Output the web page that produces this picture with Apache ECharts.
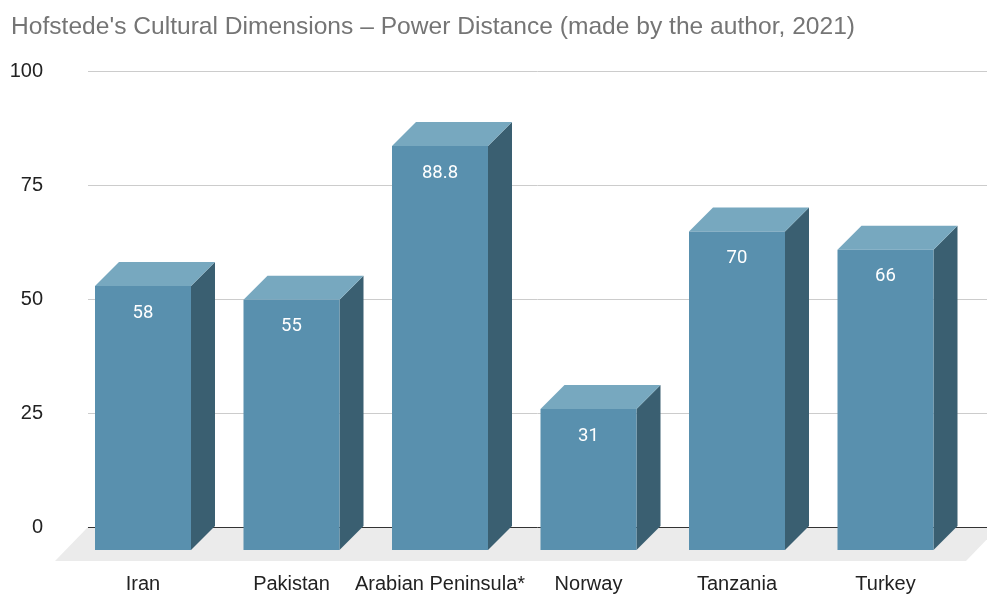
<!DOCTYPE html>
<html>
<head>
<meta charset="utf-8">
<script src="https://cdn.jsdelivr.net/npm/echarts@6/dist/echarts.min.js"></script>
<style>
  html, body { margin: 0; padding: 0; background: #fff; }
  #chart { width: 987px; height: 594px; }
</style>
</head>
<body>
<div id="chart"></div>
<script>
// Power Distance scores per country (Hofstede)
const countries = ['Iran', 'Pakistan', 'Arabian Peninsula*', 'Norway', 'Tanzania', 'Turkey'];
const powerDistance = [58, 55, 88.8, 31, 70, 66];
const yTicks = [0, 25, 50, 75, 100];

const DEPTH = 24;       // box depth offset (px, up-right)
const FRONT_W = 96;     // front face width (px)
const FLOOR_DEPTH = 34; // floor parallelogram depth

const COLOR_FRONT = '#5990ae';
const COLOR_TOP = '#77a8bf';
const COLOR_SIDE = '#3a5f71';

const chart = echarts.init(document.getElementById('chart'), null, { renderer: 'canvas' });

function renderBox(params, api) {
  const x = api.value(0);
  const v = api.value(1);
  const top = api.coord([x, v]);
  const base = api.coord([x, 0]);
  const cx = top[0];
  const l = cx - FRONT_W / 2, r = cx + FRONT_W / 2;
  const ft = top[1] + DEPTH, fb = base[1] + DEPTH;
  const d = DEPTH;
  return {
    type: 'group',
    children: [
      { type: 'polygon', shape: { points: [[r, ft], [r + d, ft - d], [r + d, fb - d], [r, fb]] },
        style: { fill: COLOR_SIDE } },
      { type: 'polygon', shape: { points: [[l, ft], [l + d, ft - d], [r + d, ft - d], [r, ft]] },
        style: { fill: COLOR_TOP } },
      { type: 'rect', shape: { x: l, y: ft, width: FRONT_W, height: fb - ft },
        style: { fill: COLOR_FRONT } },
      { type: 'text', x: cx, y: ft + 27,
        style: { text: String(v), fill: '#ffffff', font: '18.5px Roboto, "Liberation Sans", Arial, sans-serif',
                 align: 'center', verticalAlign: 'middle' } }
    ]
  };
}

// Floor plane under the boxes plus the baseline at zero
function renderFloor(params, api) {
  const cs = params.coordSys;
  const y0 = api.coord([0, 0])[1];
  const left = cs.x, right = cs.x + cs.width + 12;
  return {
    type: 'group',
    children: [
      { type: 'polygon',
        shape: { points: [[left, y0], [right, y0], [right - FLOOR_DEPTH + 1, y0 + FLOOR_DEPTH],
                          [left - FLOOR_DEPTH + 1, y0 + FLOOR_DEPTH]] },
        style: { fill: '#ebebeb' } },
      { type: 'line', shape: { x1: left, y1: y0 + 0.5, x2: cs.x + cs.width, y2: y0 + 0.5 },
        style: { stroke: '#333333', lineWidth: 1 } }
    ]
  };
}

const option = {
  animation: false,
  backgroundColor: '#ffffff',
  title: {
    text: "Hofstede's Cultural Dimensions – Power Distance (made by the author, 2021)",
    left: 6, top: 10,
    textStyle: { color: '#757575', fontSize: 24.6, fontWeight: 'normal',
                 fontFamily: '"Liberation Sans", Arial, sans-serif' }
  },
  grid: [
    { left: 88, right: 0, top: 71, bottom: 67 },
    { left: 68.75, right: 27.25, top: 71, bottom: 67 }
  ],
  xAxis: [
    { gridIndex: 0, type: 'value', min: 0, max: 1, show: false },
    { gridIndex: 1, type: 'category', data: countries,
      axisLine: { show: false }, axisTick: { show: false },
      axisLabel: { interval: 0, margin: 48, color: '#222222', fontSize: 20, lineHeight: 20,
                   fontFamily: '"Liberation Sans", Arial, sans-serif' } }
  ],
  yAxis: [
    { gridIndex: 0, type: 'value', min: yTicks[0], max: yTicks[yTicks.length - 1], interval: 25,
      axisLine: { show: false }, axisTick: { show: false },
      axisLabel: { margin: 45, color: '#222222', fontSize: 20,
                   fontFamily: '"Liberation Sans", Arial, sans-serif' },
      splitLine: { lineStyle: { color: '#cccccc', width: 1 } } },
    { gridIndex: 1, type: 'value', min: yTicks[0], max: yTicks[yTicks.length - 1], show: false }
  ],
  series: [
    { type: 'custom', xAxisIndex: 0, yAxisIndex: 0, renderItem: renderFloor,
      data: [[0, 0]], silent: true, z: 1 },
    { type: 'custom', xAxisIndex: 1, yAxisIndex: 1, renderItem: renderBox,
      data: powerDistance.map((v, i) => [i, v]), z: 3 }
  ]
};

chart.setOption(option);
</script>
</body>
</html>
